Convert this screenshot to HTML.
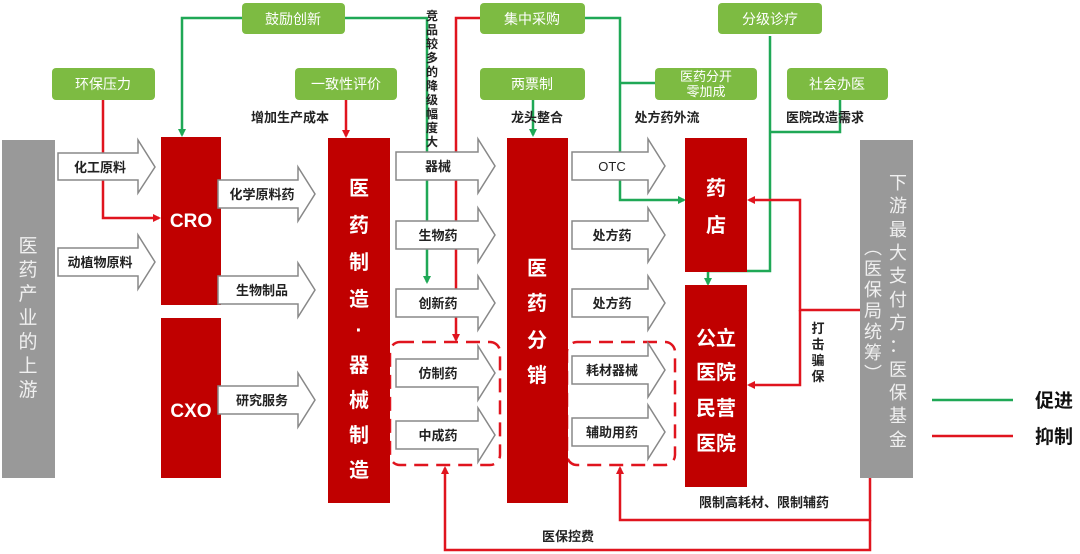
<!DOCTYPE html>
<html><head><meta charset="utf-8"><style>
html,body{margin:0;padding:0;background:#fff}
svg{display:block}
text{font-family:"Liberation Sans","Noto Sans CJK SC",sans-serif}
</style></head><body>
<svg width="1080" height="554" viewBox="0 0 1080 554" xmlns="http://www.w3.org/2000/svg">
<defs>
<marker id="ag" markerWidth="8" markerHeight="8" refX="6" refY="4" orient="auto" markerUnits="userSpaceOnUse"><path d="M0,0 L8,4 L0,8 z" fill="#1fa856"/></marker>
<marker id="ar" markerWidth="8" markerHeight="8" refX="6" refY="4" orient="auto" markerUnits="userSpaceOnUse"><path d="M0,0 L8,4 L0,8 z" fill="#e0141e"/></marker>
</defs>
<g fill="#7dbb42">
<rect x="242" y="3" width="103" height="31" rx="4"/>
<rect x="52" y="68" width="103" height="32" rx="4"/>
<rect x="295" y="68" width="102" height="32" rx="4"/>
<rect x="480" y="3" width="105" height="31" rx="4"/>
<rect x="480" y="68" width="105" height="32" rx="4"/>
<rect x="718" y="3" width="104" height="31" rx="4"/>
<rect x="655" y="68" width="102" height="32" rx="4"/>
<rect x="787" y="68" width="101" height="32" rx="4"/>
</g>
<g fill="#fff" font-size="14" text-anchor="middle">
<text x="293" y="24">鼓励创新</text>
<text x="103" y="89">环保压力</text>
<text x="346" y="89">一致性评价</text>
<text x="532" y="24">集中采购</text>
<text x="532" y="89">两票制</text>
<text x="770" y="24">分级诊疗</text>
<text x="706" y="81" font-size="13">医药分开</text>
<text x="706" y="96" font-size="13">零加成</text>
<text x="837" y="89">社会办医</text>
</g>
<g fill="none" stroke="#1fa856" stroke-width="2.5">
<path d="M242,18 H182 V135" marker-end="url(#ag)"/>
<path d="M345,18 H427 V282" marker-end="url(#ag)"/>
<path d="M533,100 V135" marker-end="url(#ag)"/>
<path d="M585,18 H620 V200 H684" marker-end="url(#ag)"/>
<path d="M655,83 H620"/>
<path d="M770,36 V271 H708 V284" marker-end="url(#ag)"/>
<path d="M840,100 V132 H770"/>
</g>
<g fill="none" stroke="#e0141e" stroke-width="2.5">
<path d="M103,100 V218 H159" marker-end="url(#ar)"/>
<path d="M346,100 V136" marker-end="url(#ar)"/>
<path d="M480,18 H456 V340" marker-end="url(#ar)"/>
<path d="M860,310 H800 V200 H749" marker-end="url(#ar)"/>
<path d="M800,310 V385 H749" marker-end="url(#ar)"/>
<path d="M870,478 V520 H620 V468" marker-end="url(#ar)"/>
<path d="M870,520 V550 H445 V468" marker-end="url(#ar)"/>
</g>
<g fill="none" stroke="#e0141e" stroke-width="2.5" stroke-dasharray="14,8">
<rect x="390" y="342" width="110" height="123" rx="10"/>
<rect x="567" y="342" width="108" height="123" rx="10"/>
</g>
<rect x="2" y="140" width="53" height="338" fill="#999"/>
<rect x="860" y="140" width="53" height="338" fill="#999"/>
<g fill="#c00000">
<rect x="161" y="137" width="60" height="168"/>
<rect x="161" y="318" width="60" height="160"/>
<rect x="328" y="138" width="62" height="365"/>
<rect x="507" y="138" width="61" height="365"/>
<rect x="685" y="138" width="62" height="134"/>
<rect x="685" y="285" width="62" height="202"/>
</g>
<g fill="#fff" stroke="#888" stroke-width="1.5">
<polygon points="58,153 138,153 138,140 155,167 138,193 138,180 58,180"/>
<polygon points="58,248 138,248 138,235 155,262 138,289 138,276 58,276"/>
<polygon points="218,180 298,180 298,167 315,194 298,221 298,208 218,208"/>
<polygon points="218,276 298,276 298,263 315,290 298,317 298,304 218,304"/>
<polygon points="218,386 298,386 298,373 315,400 298,427 298,414 218,414"/>
<polygon points="396,152 478,152 478,139 495,166 478,193 478,180 396,180"/>
<polygon points="396,221 478,221 478,208 495,235 478,262 478,249 396,249"/>
<polygon points="396,289 478,289 478,276 495,303 478,330 478,317 396,317"/>
<polygon points="396,359 478,359 478,346 495,373 478,400 478,387 396,387"/>
<polygon points="396,421 478,421 478,408 495,435 478,462 478,449 396,449"/>
<polygon points="572,152 648,152 648,139 665,166 648,193 648,180 572,180"/>
<polygon points="572,221 648,221 648,208 665,235 648,262 648,249 572,249"/>
<polygon points="572,289 648,289 648,276 665,303 648,330 648,317 572,317"/>
<polygon points="572,356 648,356 648,343 665,370 648,397 648,384 572,384"/>
<polygon points="572,418 648,418 648,405 665,432 648,459 648,446 572,446"/>
</g>
<g fill="#222" font-size="13" text-anchor="middle" font-weight="bold">
<text x="100" y="172">化工原料</text>
<text x="100" y="267">动植物原料</text>
<text x="262" y="199">化学原料药</text>
<text x="262" y="295">生物制品</text>
<text x="262" y="405">研究服务</text>
<text x="438" y="171">器械</text>
<text x="438" y="240">生物药</text>
<text x="438" y="308">创新药</text>
<text x="438" y="378">仿制药</text>
<text x="438" y="440">中成药</text>
<text x="612" y="171" font-weight="normal">OTC</text>
<text x="612" y="240">处方药</text>
<text x="612" y="308">处方药</text>
<text x="612" y="375">耗材器械</text>
<text x="612" y="437">辅助用药</text>
<text x="290" y="122">增加生产成本</text>
<text x="537" y="122">龙头整合</text>
<text x="667" y="122">处方药外流</text>
<text x="825" y="122">医院改造需求</text>
<text x="764" y="507">限制高耗材、限制辅药</text>
<text x="568" y="541">医保控费</text>
</g>
<g fill="#222" font-size="12" text-anchor="middle" font-weight="bold">
<text x="432" y="20">竞</text><text x="432" y="34">品</text><text x="432" y="48">较</text><text x="432" y="62">多</text><text x="432" y="76">的</text><text x="432" y="90">降</text><text x="432" y="104">级</text><text x="432" y="118">幅</text><text x="432" y="132">度</text><text x="432" y="146">大</text>
<text x="818" y="333" font-size="13">打</text><text x="818" y="349" font-size="13">击</text><text x="818" y="365" font-size="13">骗</text><text x="818" y="381" font-size="13">保</text>
</g>
<g fill="#fff" font-weight="bold" text-anchor="middle" font-size="20">
<text x="191" y="227" font-size="19">CRO</text>
<text x="191" y="417" font-size="19">CXO</text>
<text x="359" y="195">医</text><text x="359" y="232">药</text><text x="359" y="269">制</text><text x="359" y="306">造</text><text x="359" y="337">·</text><text x="359" y="372">器</text><text x="359" y="407">械</text><text x="359" y="442">制</text><text x="359" y="477">造</text>
<text x="537" y="275">医</text><text x="537" y="310">药</text><text x="537" y="347">分</text><text x="537" y="382">销</text>
<text x="716" y="195">药</text><text x="716" y="232">店</text>
<text x="716" y="345">公立</text><text x="716" y="379">医院</text><text x="716" y="415">民营</text><text x="716" y="450">医院</text>
</g>
<g fill="#f0f0f0" font-size="19" text-anchor="middle">
<text x="28" y="252">医</text><text x="28" y="276">药</text><text x="28" y="300">产</text><text x="28" y="324">业</text><text x="28" y="348">的</text><text x="28" y="372">上</text><text x="28" y="396">游</text>
</g>
<g fill="#f0f0f0" font-size="18" text-anchor="middle">
<text x="898" y="189">下</text><text x="898" y="212">游</text><text x="898" y="236">最</text><text x="898" y="259">大</text><text x="898" y="282">支</text><text x="898" y="306">付</text><text x="898" y="329">方</text><text x="898" y="352">：</text><text x="898" y="376">医</text><text x="898" y="399">保</text><text x="898" y="422">基</text><text x="898" y="446">金</text>
<text x="873" y="254">︵</text><text x="873" y="275">医</text><text x="873" y="296">保</text><text x="873" y="317">局</text><text x="873" y="338">统</text><text x="873" y="359">筹</text><text x="873" y="380">︶</text>
</g>
<line x1="932" y1="400" x2="1013" y2="400" stroke="#1fa856" stroke-width="2.5"/>
<line x1="932" y1="436" x2="1013" y2="436" stroke="#e0141e" stroke-width="2.5"/>
<text x="1035" y="407" font-size="19" font-weight="bold" fill="#111">促进</text>
<text x="1035" y="443" font-size="19" font-weight="bold" fill="#111">抑制</text>
</svg>
</body></html>
